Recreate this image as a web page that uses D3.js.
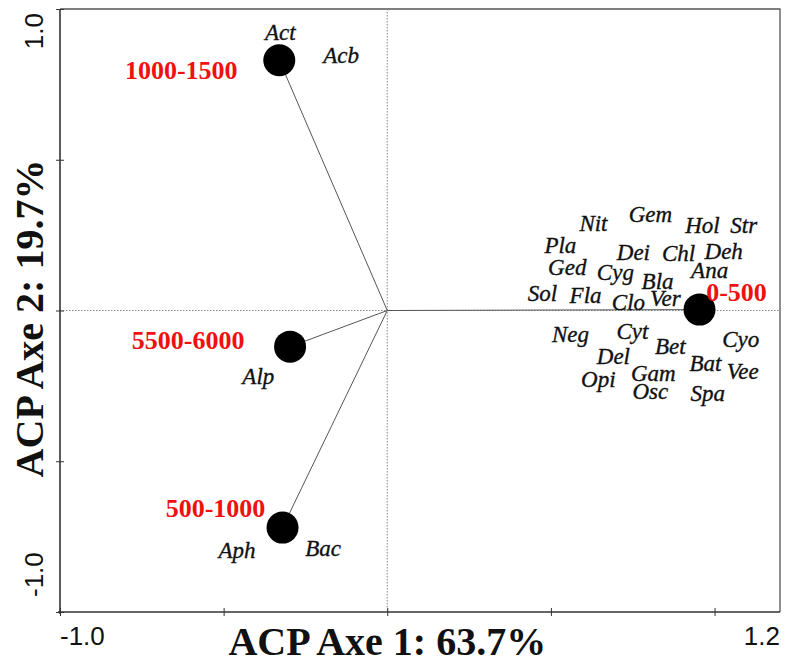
<!DOCTYPE html>
<html>
<head>
<meta charset="utf-8">
<script src="https://cdn.jsdelivr.net/npm/d3@7"></script>
<style>
  body { margin: 0; background: #fff; }
  svg { display: block; }
  .taxon { font-family: "Liberation Serif", "Times New Roman", serif; font-style: italic; font-size: 23px; fill: #111; stroke: #111; stroke-width: 0.35px; }
  .site  { font-family: "Liberation Serif", "Times New Roman", serif; font-weight: bold; font-size: 26px; fill: #f01010; }
  .tick-lbl { font-family: "Liberation Sans", Arial, sans-serif; font-size: 26px; fill: #111; }
  .axis-title { font-family: "Liberation Serif", "Times New Roman", serif; font-weight: bold; font-size: 40px; fill: #111; }
</style>
</head>
<body>
<div id="chart"></div>
<script>
// ACP — profondeurs (sites) et taxons sur les axes 1 et 2
const siteNames = ["1000-1500", "5500-6000", "500-1000", "0-500"];
const siteAxe1  = [-0.33, -0.297, -0.32, 0.954];
const siteAxe2  = [0.83, -0.12, -0.72, 0.003];

const taxaNames = ["Act", "Acb", "Alp", "Aph", "Bac",
  "Gem", "Nit", "Hol", "Str", "Pla", "Dei", "Chl", "Deh", "Ged", "Cyg", "Ana", "Bla",
  "Sol", "Fla", "Clo", "Ver", "Neg", "Cyt", "Cyo", "Bet", "Del", "Bat", "Vee", "Gam",
  "Opi", "Osc", "Spa"];
const taxaAxe1 = [-0.327, -0.141, -0.394, -0.459, -0.196,
  0.804, 0.630, 0.963, 1.089, 0.529, 0.752, 0.890, 1.028, 0.550, 0.697, 0.985, 0.826,
  0.474, 0.606, 0.737, 0.850, 0.560, 0.749, 1.080, 0.865, 0.691, 0.972, 1.086, 0.813,
  0.645, 0.804, 0.979];
const taxaAxe2 = [0.923, 0.847, -0.217, -0.793, -0.787,
  0.320, 0.290, 0.283, 0.283, 0.217, 0.193, 0.190, 0.197, 0.143, 0.127, 0.133, 0.097,
  0.057, 0.053, 0.027, 0.040, -0.077, -0.067, -0.093, -0.117, -0.150, -0.173, -0.200, -0.207,
  -0.227, -0.267, -0.273];

const xTicks = [-1, -0.5, 0, 0.5, 1];
const yTicks = [-1, -0.5, 0, 0.5, 1];
const xLabelValues = [-1, 1.2];
const xLabelText   = ["-1.0", "1.2"];
const yLabelValues = [1, -1];
const yLabelText   = ["1.0", "-1.0"];
const xTitle = "ACP Axe 1: 63.7%";
const yTitle = "ACP Axe 2: 19.7%";

(() => {
  const width = 790, height = 663;
  const margin = { top: 9, right: 10, bottom: 51, left: 60 };

  const svg = d3.select("#chart").append("svg")
    .attr("width", width).attr("height", height)
    .attr("viewBox", [0, 0, width, height]);

  const x = d3.scaleLinear().domain([-1, 1.2]).range([margin.left, width - margin.right]);
  const y = d3.scaleLinear().domain([-1, 1]).range([height - margin.bottom, margin.top]);

  // cadre haut / droite (fin)
  svg.append("path")
    .attr("d", `M${x(-1)},${y(1)}H${x(1.2)}V${y(-1)}`)
    .attr("fill", "none").attr("stroke", "#555").attr("stroke-width", 1.3);

  // lignes du zéro (pointillé)
  svg.append("line")
    .attr("x1", x(0)).attr("x2", x(0)).attr("y1", y(1)).attr("y2", y(-1))
    .attr("stroke", "#888").attr("stroke-width", 1).attr("stroke-dasharray", "1.5,1.5");
  svg.append("line")
    .attr("x1", x(-1)).attr("x2", x(1.2)).attr("y1", y(0)).attr("y2", y(0))
    .attr("stroke", "#888").attr("stroke-width", 1).attr("stroke-dasharray", "1.5,1.5");

  // axes
  const ax = svg.append("g")
    .attr("transform", `translate(0,${y(-1)})`)
    .call(d3.axisBottom(x).tickValues(xTicks).tickSizeInner(4).tickSizeOuter(0).tickFormat(""));
  ax.selectAll(".tick line").attr("y1", -4).attr("stroke", "#333");
  ax.select(".domain").attr("stroke", "#333").attr("stroke-width", 1.6)
    .attr("d", `M${x(-1) - 2},0H${x(1.2)}`);

  const ay = svg.append("g")
    .attr("transform", `translate(${x(-1)},0)`)
    .call(d3.axisLeft(y).tickValues(yTicks).tickSizeInner(4).tickSizeOuter(0).tickFormat(""));
  ay.selectAll(".tick line").attr("x1", 4).attr("x2", -4).attr("stroke", "#333");
  ay.select(".domain").attr("stroke", "#333").attr("stroke-width", 1.6)
    .attr("d", `M0,${y(1)}V${y(-1) + 2}`);

  // étiquettes de graduation
  svg.selectAll("text.xl")
    .data(xLabelValues)
    .join("text")
    .attr("class", "tick-lbl xl")
    .attr("x", d => x(d))
    .attr("y", y(-1) + 33)
    .attr("text-anchor", (d, i) => i === 0 ? "start" : "end")
    .text((d, i) => xLabelText[i]);

  svg.selectAll("text.yl")
    .data(yLabelValues)
    .join("text")
    .attr("class", "tick-lbl yl")
    .attr("transform", (d, i) => `translate(43,${i === 0 ? y(d) + 4 : y(d) - 15}) rotate(-90)`)
    .attr("text-anchor", (d, i) => i === 0 ? "end" : "start")
    .text((d, i) => yLabelText[i]);

  // titres des axes
  svg.append("text")
    .attr("class", "axis-title")
    .attr("x", x(0)).attr("y", height - 8)
    .attr("text-anchor", "middle")
    .text(xTitle);

  svg.append("text")
    .attr("class", "axis-title")
    .attr("transform", `translate(43,${y(0) + 8}) rotate(-90)`)
    .attr("text-anchor", "middle")
    .text(yTitle);

  const sites = siteNames.map((name, i) => ({ name, a1: siteAxe1[i], a2: siteAxe2[i] }));
  const taxa  = taxaNames.map((name, i) => ({ name, a1: taxaAxe1[i], a2: taxaAxe2[i] }));

  // vecteurs depuis l'origine
  svg.selectAll("line.vec")
    .data(sites)
    .join("line")
    .attr("class", "vec")
    .attr("x1", x(0)).attr("y1", y(0))
    .attr("x2", d => x(d.a1)).attr("y2", d => y(d.a2))
    .attr("stroke", "#555").attr("stroke-width", 1);

  // taxons
  svg.selectAll("text.taxon")
    .data(taxa)
    .join("text")
    .attr("class", "taxon")
    .attr("x", d => x(d.a1))
    .attr("y", d => y(d.a2))
    .attr("dy", "0.35em")
    .attr("text-anchor", "middle")
    .text(d => d.name);

  // points des sites
  svg.selectAll("circle.site-pt")
    .data(sites)
    .join("circle")
    .attr("class", "site-pt")
    .attr("cx", d => x(d.a1))
    .attr("cy", d => y(d.a2))
    .attr("r", 16)
    .attr("fill", "#000");

  // décalage des étiquettes rouges par rapport au point
  const off = {
    "1000-1500": [-98, 10],
    "5500-6000": [-102, -7],
    "500-1000":  [-67, -20],
    "0-500":     [37, -18]
  };
  svg.selectAll("text.site")
    .data(sites)
    .join("text")
    .attr("class", "site")
    .attr("x", d => x(d.a1) + off[d.name][0])
    .attr("y", d => y(d.a2) + off[d.name][1])
    .attr("dy", "0.35em")
    .attr("text-anchor", "middle")
    .text(d => d.name);
})();
</script>
</body>
</html>
